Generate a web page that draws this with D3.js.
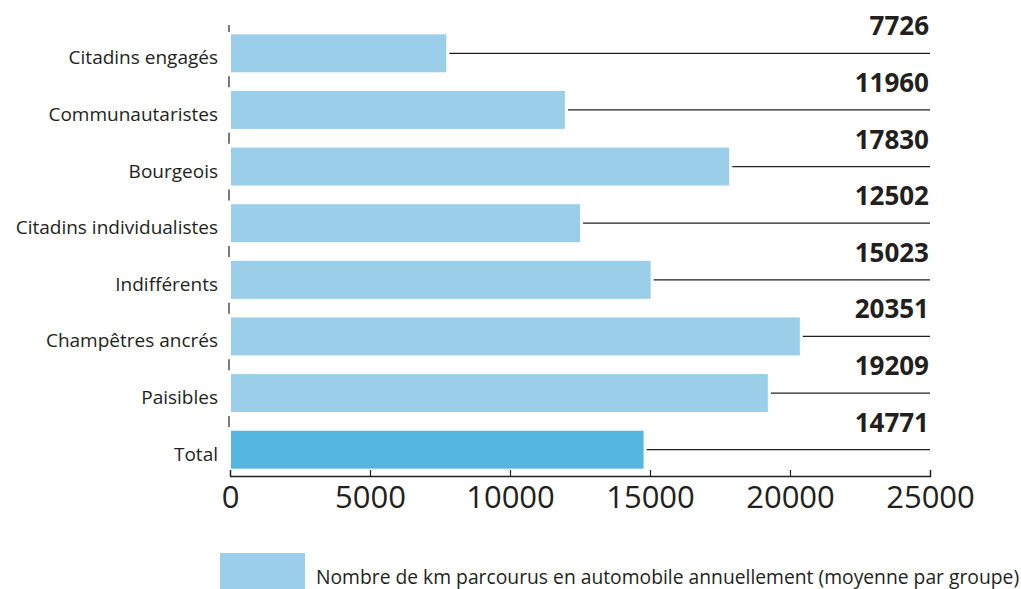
<!DOCTYPE html>
<html>
<head>
<meta charset="utf-8">
<script src="https://cdn.jsdelivr.net/npm/d3@7"></script>
<style>
  body { margin: 0; background: #fff; }
  svg { display: block; font-family: "Open Sans", "Noto Sans", sans-serif; }
</style>
</head>
<body>
<svg id="chart"></svg>
<script>
// Data
const categories = ["Citadins engagés", "Communautaristes", "Bourgeois", "Citadins individualistes",
    "Indifférents", "Champêtres ancrés", "Paisibles", "Total"];
const kmValues = [7726, 11960, 17830, 12502, 15023, 20351, 19209, 14771];
const xTicks = [0, 5000, 10000, 15000, 20000, 25000];
const legendLabel = "Nombre de km parcourus en automobile annuellement (moyenne par groupe)";

let width = 1021;
let height = 589;
let ink = "#231f20";

let svg = d3.select("#chart")
    .attr("width", width)
    .attr("height", height);

// Scales
let xScale = d3.scaleLinear()
    .domain([0, 25000])
    .range([230, 930]);

let yScale = d3.scaleBand()
    .domain(categories)
    .range([25, 478])
    .paddingInner(0.33)
    .paddingOuter(0.165);

let axisY = 476;

// Bars
svg.selectAll(".bar")
    .data(categories)
    .enter().append("rect")
    .attr("class", "bar")
    .attr("x", xScale(0) + 1)
    .attr("y", d => yScale(d))
    .attr("width", (d, i) => xScale(kmValues[i]) - xScale(0) - 1)
    .attr("height", yScale.bandwidth())
    .attr("fill", d => d === "Total" ? "#55b6e0" : "#9acee9");

// Leader lines
svg.selectAll(".leader")
    .data(categories)
    .enter().append("line")
    .attr("x1", (d, i) => xScale(kmValues[i]) + 3)
    .attr("x2", xScale(25000))
    .attr("y1", d => yScale(d) + yScale.bandwidth() / 2)
    .attr("y2", d => yScale(d) + yScale.bandwidth() / 2)
    .attr("stroke", ink)
    .attr("stroke-width", 1.3);

// Value labels
svg.selectAll(".value")
    .data(categories)
    .enter().append("text")
    .attr("x", xScale(25000) - 1)
    .attr("y", d => yScale(d) + yScale.bandwidth() / 2 - 18)
    .attr("text-anchor", "end")
    .attr("font-size", 26)
    .attr("font-weight", "bold")
    .attr("fill", ink)
    .text((d, i) => kmValues[i]);

// Category labels
svg.selectAll(".cat")
    .data(categories)
    .enter().append("text")
    .attr("x", 218)
    .attr("y", d => yScale(d) + yScale.bandwidth() / 2 + 11)
    .attr("text-anchor", "end")
    .attr("font-size", 19)
    .attr("fill", ink)
    .text(d => d);

// Y tick marks at band boundaries
let step = yScale.step();
let boundaries = categories.slice(1).map(d => yScale(d) - (step - yScale.bandwidth()) / 2);
svg.selectAll(".ytick")
    .data(boundaries)
    .enter().append("line")
    .attr("x1", 229).attr("x2", 229)
    .attr("y1", d => d - 5.5)
    .attr("y2", d => d + 5.5)
    .attr("stroke", ink)
    .attr("stroke-width", 1.2);
svg.append("line")
    .attr("x1", 229).attr("x2", 229)
    .attr("y1", 25).attr("y2", 32)
    .attr("stroke", ink)
    .attr("stroke-width", 1.2);

// X axis
let xAxis = svg.append("g")
    .attr("transform", `translate(0, ${axisY})`)
    .call(d3.axisBottom(xScale).tickValues(xTicks).tickFormat(d3.format("d"))
        .tickSize(-6).tickSizeOuter(-6).tickPadding(0));
xAxis.select(".domain").attr("stroke", ink).attr("stroke-width", 1.3);
xAxis.selectAll(".tick line").attr("stroke", ink).attr("stroke-width", 1.2);
xAxis.selectAll(".tick text")
    .attr("y", 32)
    .attr("dy", 0)
    .attr("font-size", 31)
    .attr("font-family", "'Open Sans', sans-serif")
    .attr("fill", ink);

// Legend
svg.append("rect")
    .attr("x", 220)
    .attr("y", 553)
    .attr("width", 85)
    .attr("height", 40)
    .attr("fill", "#9acee9");
svg.append("text")
    .attr("x", 316)
    .attr("y", 584)
    .attr("font-size", 19.3)
    .attr("fill", ink)
    .text(legendLabel);
</script>
</body>
</html>
